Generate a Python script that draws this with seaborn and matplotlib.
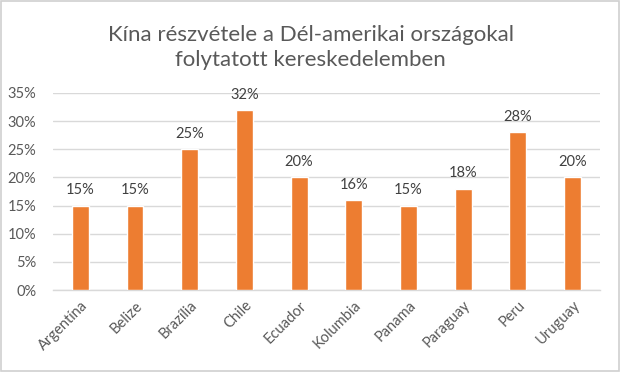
import matplotlib
matplotlib.use("Agg")
import matplotlib.pyplot as plt
import seaborn as sns
import pandas as pd
from matplotlib.ticker import PercentFormatter
from matplotlib.patches import Rectangle

# Data
countries = ["Argentína", "Belize", "Brazília", "Chile", "Ecuador",
             "Kolumbia", "Panama", "Paraguay", "Peru", "Uruguay"]
shares = [15, 15, 25, 32, 20, 16, 15, 18, 28, 20]
yticks = [0, 5, 10, 15, 20, 25, 30, 35]

df = pd.DataFrame({"country": countries, "share": shares})

sns.set_style("white")
plt.rcParams["font.family"] = ["Lato", "DejaVu Sans"]

text_col = "#595959"
grid_col = "#D9D9D9"

fig = plt.figure(figsize=(6.21, 3.72), dpi=100)
ax = fig.add_axes([0.0853, 0.2204, 0.8807, 0.5296])

sns.barplot(data=df, x="country", y="share", color="#ED7D31",
            width=0.31, saturation=1, ax=ax, zorder=3)

ax.set_ylim(0, 35)
ax.set_yticks(yticks)
ax.yaxis.set_major_formatter(PercentFormatter(decimals=0))
ax.grid(axis="y", color=grid_col, linewidth=1, zorder=0)
ax.set_axisbelow(True)
for s in ["top", "right", "left"]:
    ax.spines[s].set_visible(False)
ax.spines["bottom"].set_color(grid_col)
ax.spines["bottom"].set_linewidth(1)
ax.tick_params(axis="both", length=0, colors=text_col, labelsize=10.5)
ax.tick_params(axis="y", pad=12)
ax.tick_params(axis="x", pad=6)
ax.set_xlabel("")
ax.set_ylabel("")
plt.setp(ax.get_xticklabels(), rotation=45, ha="right", rotation_mode="anchor")

for c in ax.containers:
    ax.bar_label(c, labels=[f"{v}%" for v in shares], padding=6,
                 color="#404040", fontsize=10.5)

fig.text(0.5, 0.872, "Kína részvétele a Dél-amerikai országokal\nfolytatott kereskedelemben",
         ha="center", va="center", fontsize=16, color=text_col, linespacing=1.3)

# outer chart border
fig.patches.append(Rectangle((0.002, 0.003), 0.995, 0.994, transform=fig.transFigure,
                             fill=False, edgecolor="#D0D0D0", linewidth=1.2))

fig.savefig("out.png", dpi=100)
